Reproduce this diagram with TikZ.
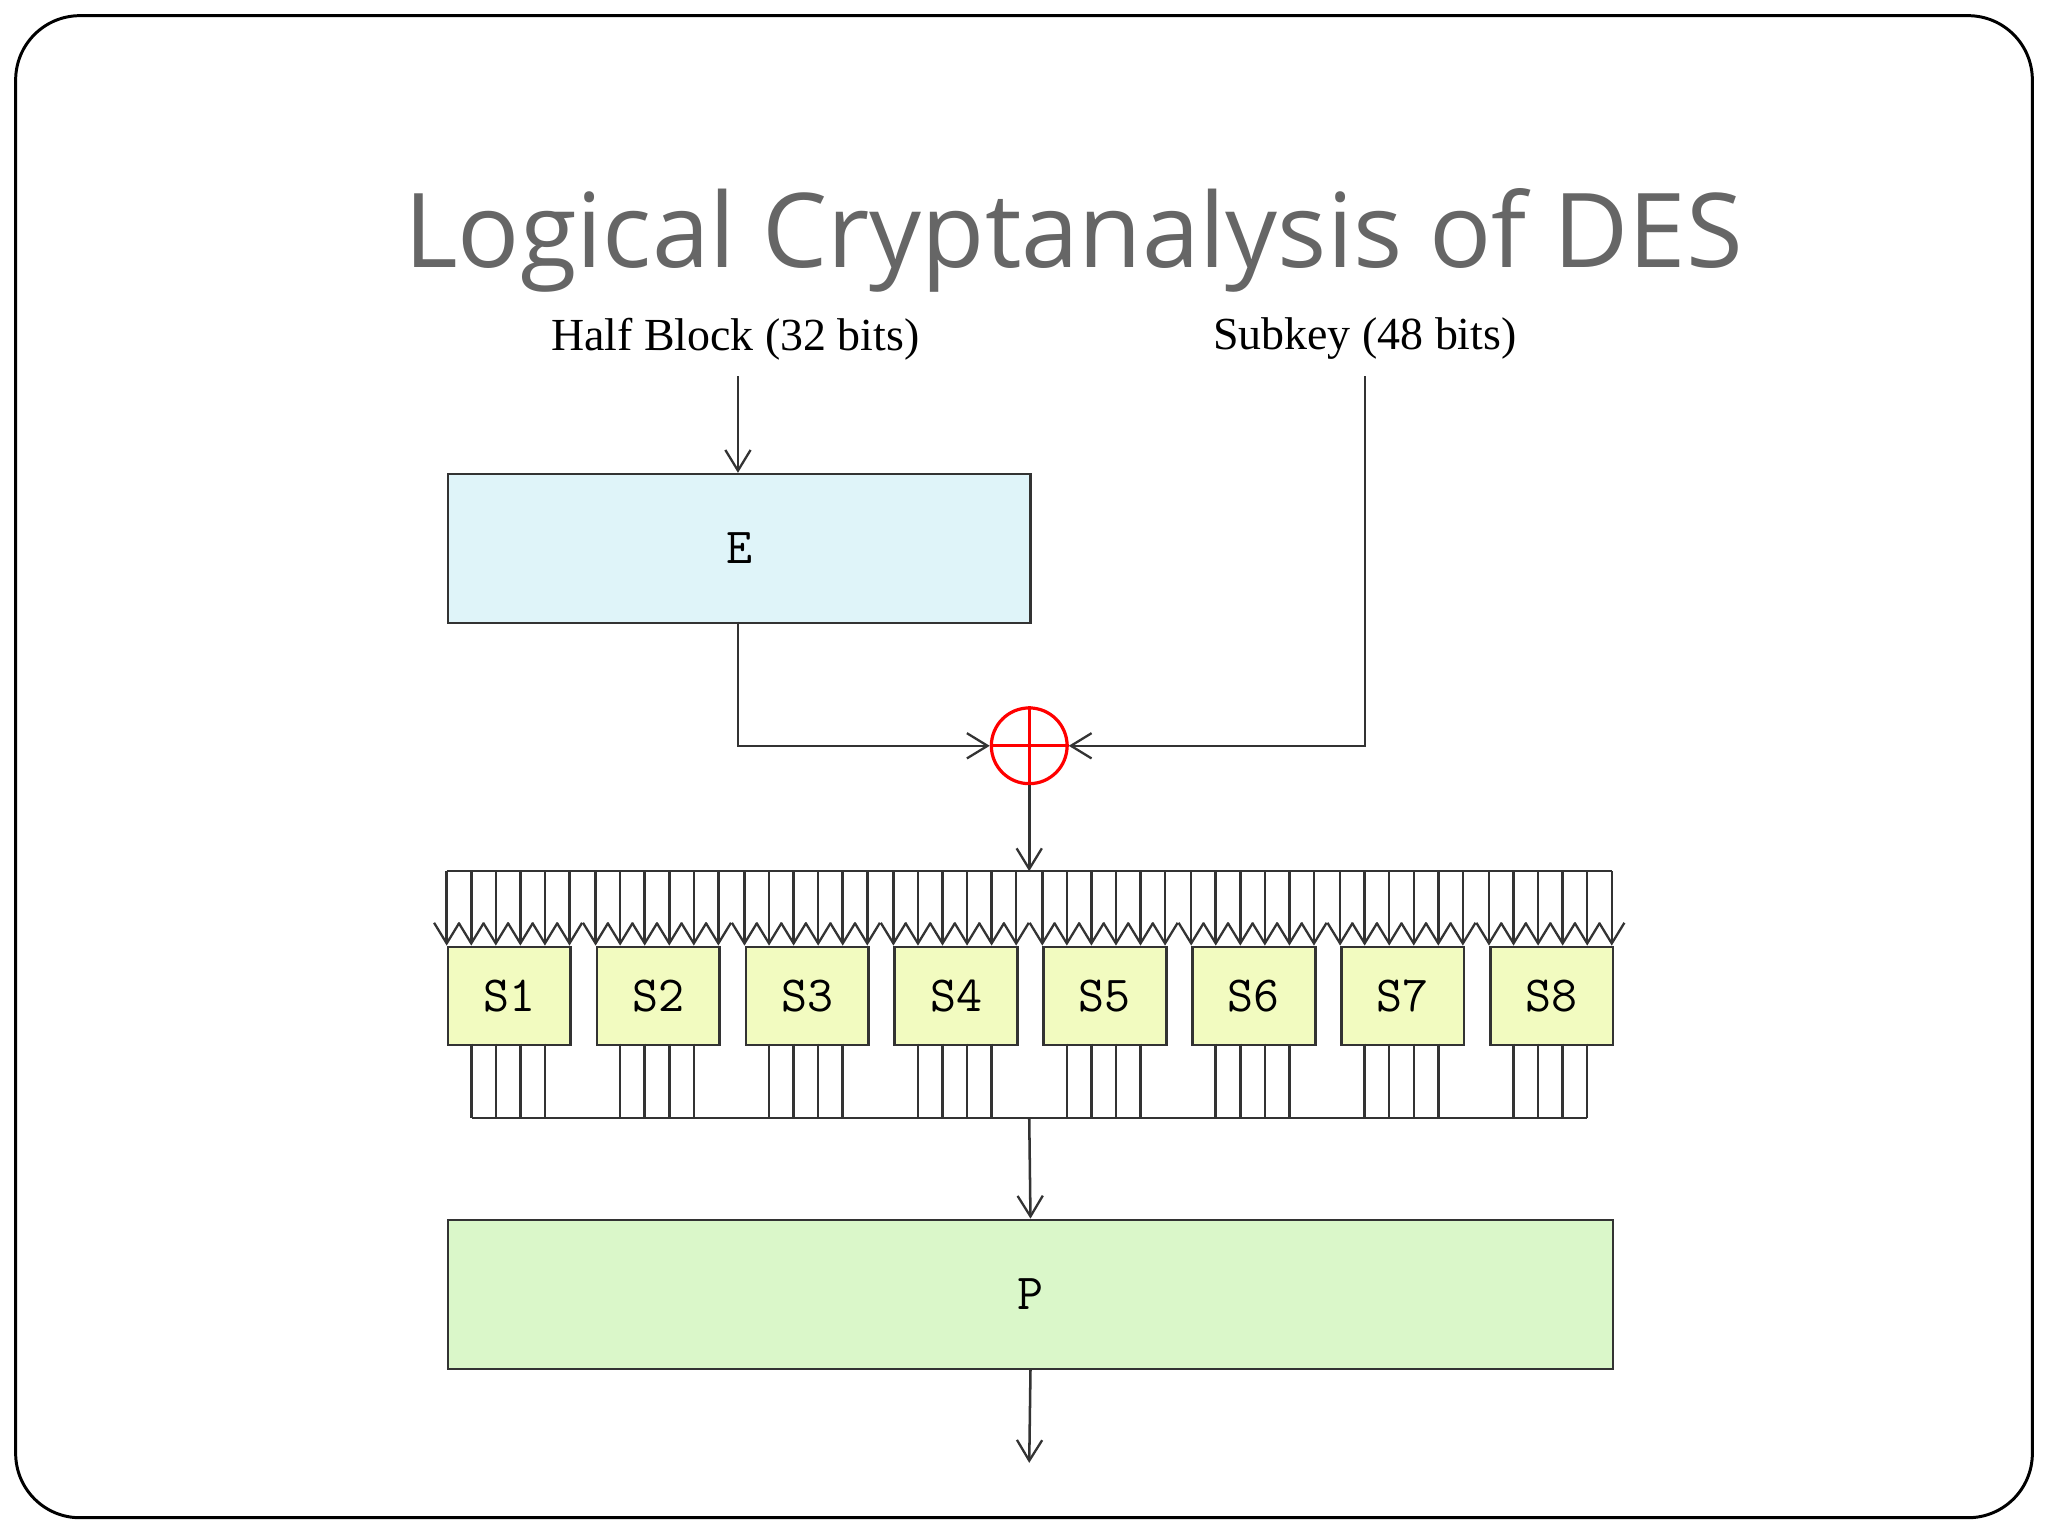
\documentclass[tikz,border=0pt]{standalone}
\usepackage{fontspec}
\setmainfont{Liberation Serif}
\newfontfamily\titlefont{Open Sans}
\usetikzlibrary{arrows.meta}
\definecolor{ecol}{HTML}{DFF4F9}
\definecolor{pcol}{HTML}{DAF7C9}
\definecolor{scol}{HTML}{F2FBC0}
\definecolor{lc}{HTML}{333333}
\begin{document}
\begin{tikzpicture}[x=0.02cm,y=-0.02cm,
  ln/.style={draw=lc,line width=1.1pt},
  arr/.style={ln,-{Straight Barb[length=9pt,width=11pt,line width=1pt]}},
  boxstyle/.style={draw=lc,line width=1.1pt,anchor=north west,inner sep=0pt},
  mono/.style={font=\ttfamily\fontsize{22}{24}\selectfont},
  lbl/.style={font=\fontsize{20}{24}\selectfont}]
\useasboundingbox (0,0) rectangle (1568,1176);
\draw[line width=1.3pt,rounded corners=28pt] (12,12) rectangle (1556,1162);
\node[text=black!60,font=\titlefont\fontsize{45}{54}\selectfont] (title) at (822,184) {Logical Cryptanalysis of DES};
\node[lbl] (hb) at (563,260) {Half Block (32 bits)};
\node[lbl] (sk) at (1045,259) {Subkey (48 bits)};
\node[boxstyle,fill=ecol,minimum width=446*0.02cm,minimum height=114*0.02cm] (E) at (342,362) {};
\node[mono] at (E.center) {E};
\node[boxstyle,fill=pcol,minimum width=892*0.02cm,minimum height=114*0.02cm] (P) at (342,933) {};
\node[mono] at (P.center) {P};
\coordinate (hbtop) at (565,288);
\coordinate (sktop) at (1045,288);
\draw[arr] (hbtop) -- (565,362);
\node[circle,draw=red,line width=1.4pt,minimum size=58*0.02cm,inner sep=0pt] (X) at (788,571) {};
\draw[red,line width=1.4pt] (X.north) -- (X.south) (X.west) -- (X.east);
\draw[arr] (565,476) |- (X.west);
\draw[arr] (sktop) |- (X.east);
\draw[ln] (342,667) -- (1234,667);
\draw[arr] (X.south) -- (788,667);
\foreach \i in {1,...,8}{
  \pgfmathsetmacro{\L}{342+114*(\i-1)}
  \node[boxstyle,fill=scol,minimum width=94*0.02cm,minimum height=75*0.02cm] (S\i) at (\L,724) {};
  \node[mono] at (S\i.center) {S\i};
  \foreach \k in {0,...,5}{
    \draw[arr] (\L+18.8*\k,667) -- (\L+18.8*\k,724);
  }
  \foreach \k in {1,...,4}{
    \draw[ln] (\L+18.8*\k,799) -- (\L+18.8*\k,856);
  }
}
\draw[ln] (361,856) -- (1215,856);
\draw[arr] (788,856) -- (P.north);
\coordinate (out) at (788,1120);
\draw[arr] (P.south) -- (out);
\end{tikzpicture}
\end{document}
